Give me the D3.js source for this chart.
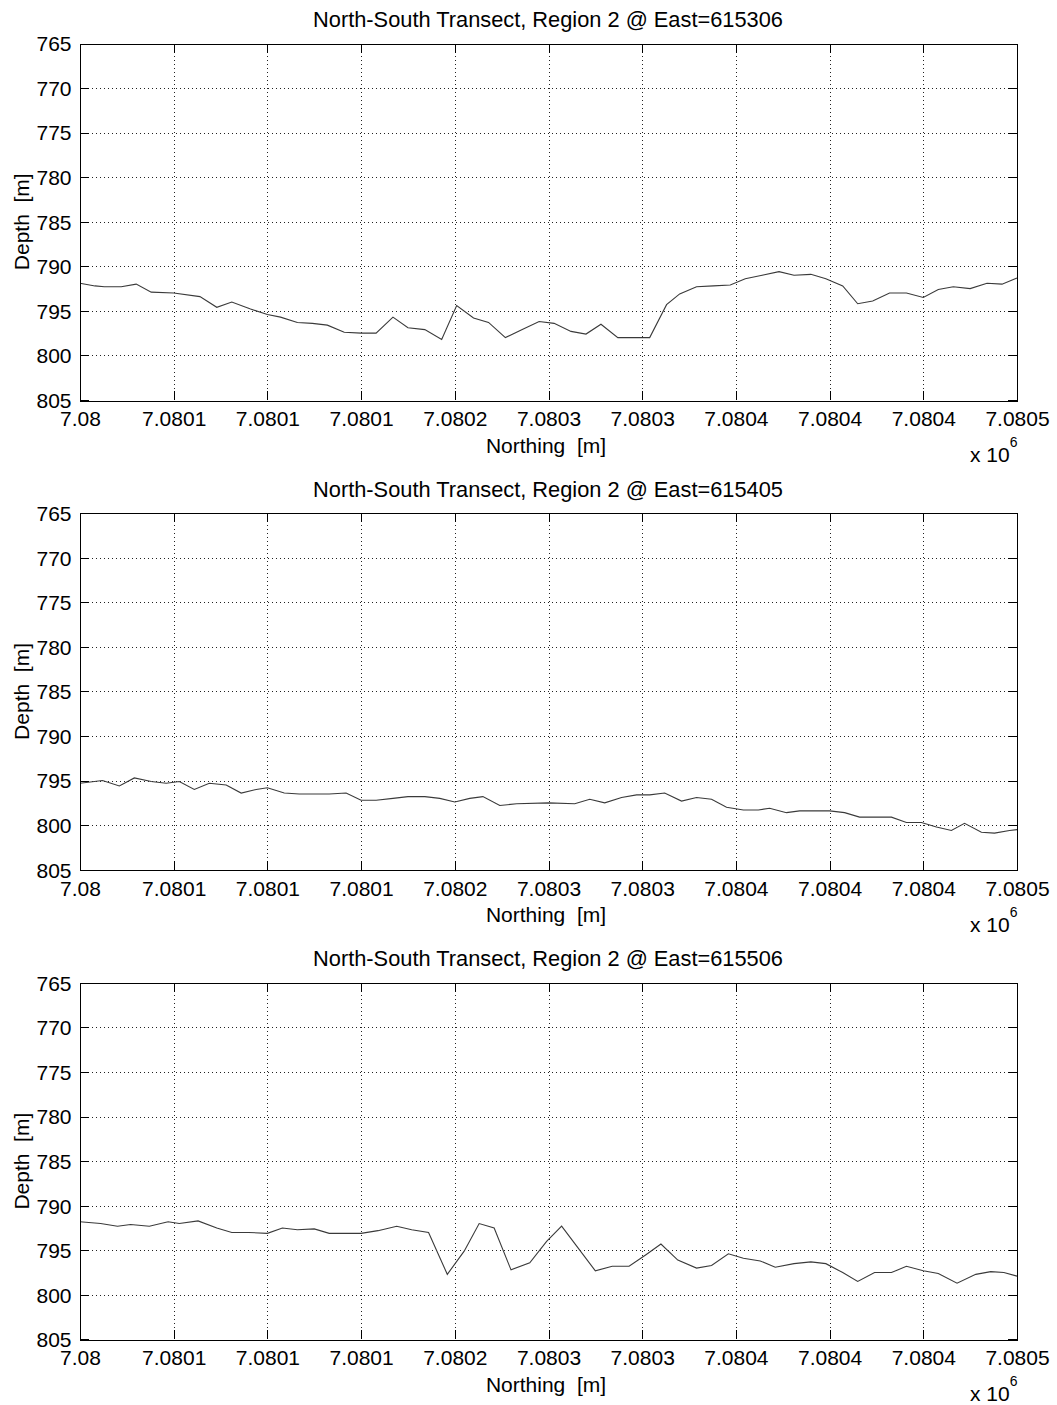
<!DOCTYPE html>
<html>
<head>
<meta charset="utf-8">
<script src="https://cdn.jsdelivr.net/npm/d3@7"></script>
<style>
  html, body { margin: 0; padding: 0; background: #fff; }
  svg { display: block; }
  text { font-family: "Liberation Sans", Arial, Helvetica, sans-serif; fill: #000; }
</style>
</head>
<body>
<svg id="fig" width="1057" height="1405"></svg>
<script>
// Transect titles (one per panel)
const titles = [
  "North-South Transect, Region 2 @ East=615306",
  "North-South Transect, Region 2 @ East=615405",
  "North-South Transect, Region 2 @ East=615506"
];

// Axis ticks and their printed labels
const xTicks = [7080000, 7080050, 7080100, 7080150, 7080200, 7080250,
                7080300, 7080350, 7080400, 7080450, 7080500];
const xTickLabels = ["7.08", "7.0801", "7.0801", "7.0801", "7.0802", "7.0803",
                     "7.0803", "7.0804", "7.0804", "7.0804", "7.0805"];
const yTicks = [765, 770, 775, 780, 785, 790, 795, 800, 805];

// Transect at East=615306
const northing1 = [7080000, 7080008, 7080013, 7080022, 7080030, 7080038, 7080050, 7080064,
  7080073, 7080081, 7080091, 7080100, 7080107, 7080116, 7080124, 7080132, 7080141, 7080150,
  7080158, 7080167, 7080175, 7080184, 7080193, 7080201, 7080210, 7080218, 7080227, 7080236,
  7080245, 7080253, 7080262, 7080270, 7080278, 7080287, 7080295, 7080304, 7080313, 7080320,
  7080329, 7080338, 7080347, 7080355, 7080364, 7080373, 7080381, 7080390, 7080398, 7080407,
  7080415, 7080423, 7080432, 7080441, 7080450, 7080458, 7080466, 7080475, 7080484, 7080492,
  7080500];
const depth1 = [791.9, 792.2, 792.3, 792.3, 792.0, 792.9, 793.0, 793.4,
  794.6, 794.0, 794.8, 795.4, 795.7, 796.3, 796.4, 796.6, 797.4, 797.5,
  797.5, 795.7, 796.9, 797.1, 798.2, 794.4, 795.8, 796.3, 798.0, 797.1,
  796.2, 796.4, 797.3, 797.6, 796.5, 798.0, 798.0, 798.0, 794.3, 793.1,
  792.3, 792.2, 792.1, 791.4, 791.0, 790.6, 791.0, 790.9, 791.4, 792.2,
  794.2, 793.9, 793.0, 793.0, 793.5, 792.6, 792.3, 792.5, 791.9, 792.0,
  791.3];

// Transect at East=615405
const northing2 = [7080000, 7080012, 7080021, 7080029, 7080038, 7080046, 7080053, 7080061,
  7080069, 7080078, 7080086, 7080094, 7080100, 7080109, 7080117, 7080125, 7080133, 7080142,
  7080150, 7080158, 7080167, 7080175, 7080184, 7080192, 7080200, 7080208, 7080215, 7080224,
  7080233, 7080250, 7080264, 7080272, 7080280, 7080289, 7080297, 7080304, 7080312, 7080321,
  7080329, 7080337, 7080345, 7080354, 7080362, 7080368, 7080377, 7080384, 7080391, 7080400,
  7080408, 7080416, 7080425, 7080433, 7080441, 7080449, 7080457, 7080465, 7080472, 7080481,
  7080488, 7080496, 7080500];
const depth2 = [795.3, 795.0, 795.6, 794.7, 795.1, 795.3, 795.1, 796.0,
  795.3, 795.5, 796.4, 796.0, 795.8, 796.4, 796.5, 796.5, 796.5, 796.4,
  797.2, 797.2, 797.0, 796.8, 796.8, 797.0, 797.4, 797.0, 796.8, 797.8,
  797.6, 797.5, 797.6, 797.1, 797.5, 796.9, 796.6, 796.6, 796.4, 797.3,
  796.9, 797.1, 798.0, 798.3, 798.3, 798.1, 798.6, 798.4, 798.4, 798.4,
  798.6, 799.1, 799.1, 799.1, 799.7, 799.7, 800.2, 800.6, 799.8, 800.8,
  800.9, 800.6, 800.5];

// Transect at East=615506
const northing3 = [7080000, 7080011, 7080020, 7080027, 7080037, 7080047, 7080053, 7080063,
  7080073, 7080081, 7080090, 7080100, 7080108, 7080116, 7080125, 7080133, 7080142, 7080150,
  7080159, 7080169, 7080177, 7080186, 7080196, 7080205, 7080213, 7080221, 7080230, 7080240,
  7080249, 7080257, 7080275, 7080284, 7080293, 7080302, 7080310, 7080319, 7080329, 7080337,
  7080346, 7080354, 7080363, 7080371, 7080381, 7080390, 7080398, 7080407, 7080415, 7080424,
  7080433, 7080441, 7080450, 7080458, 7080468, 7080478, 7080486, 7080493, 7080500];
const depth3 = [791.8, 792.0, 792.3, 792.1, 792.3, 791.8, 792.0, 791.7,
  792.5, 793.0, 793.0, 793.1, 792.5, 792.7, 792.6, 793.1, 793.1, 793.1,
  792.8, 792.3, 792.7, 793.0, 797.7, 795.1, 792.0, 792.5, 797.2, 796.4,
  794.0, 792.3, 797.3, 796.8, 796.8, 795.5, 794.3, 796.1, 797.0, 796.7,
  795.4, 795.9, 796.2, 796.9, 796.5, 796.3, 796.5, 797.5, 798.5, 797.5,
  797.5, 796.8, 797.3, 797.6, 798.7, 797.7, 797.4, 797.5, 797.9];

const panels = [
  { title: titles[0], northing: northing1, depth: depth1 },
  { title: titles[1], northing: northing2, depth: depth2 },
  { title: titles[2], northing: northing3, depth: depth3 }
];

// Layout
const left = 80, right = 1017;
const firstTop = 43.5, panelStep = 469.7, plotH = 356.5;
const tickLen = 9;
const fontSize = 21;

const svg = d3.select("#fig");
svg.append("rect").attr("width", 1057).attr("height", 1405).attr("fill", "#fff");

const x = d3.scaleLinear().domain([xTicks[0], xTicks[xTicks.length - 1]]).range([left, right]);

panels.forEach((p, i) => {
  const top = firstTop + i * panelStep;
  const bottom = top + plotH;
  const y = d3.scaleLinear().domain([yTicks[0], yTicks[yTicks.length - 1]]).range([top, bottom]);

  const g = svg.append("g");

  // Dotted grid
  const grid = g.append("g").attr("stroke", "#222").attr("stroke-width", 1)
    .attr("stroke-dasharray", "1,3").attr("shape-rendering", "crispEdges");
  grid.selectAll("line.gx").data(xTicks.slice(1, -1)).join("line")
    .attr("x1", d => Math.round(x(d)) + 0.5).attr("x2", d => Math.round(x(d)) + 0.5)
    .attr("y1", top).attr("y2", bottom);
  grid.selectAll("line.gy").data(yTicks.slice(1, -1)).join("line")
    .attr("class", "gy")
    .attr("x1", left).attr("x2", right)
    .attr("y1", d => Math.round(y(d)) + 0.5).attr("y2", d => Math.round(y(d)) + 0.5);

  // Depth profile
  const line = d3.line().x((d, k) => x(p.northing[k])).y(d => y(d));
  g.append("path").datum(p.depth)
    .attr("fill", "none").attr("stroke", "#3a3a3a").attr("stroke-width", 1.1)
    .attr("stroke-linejoin", "miter")
    .attr("d", line);

  // Axes with inward ticks
  const axB = d3.axisBottom(x).tickValues(xTicks).tickFormat((d, k) => xTickLabels[k])
    .tickSizeInner(-tickLen).tickSizeOuter(0);
  const axT = d3.axisTop(x).tickValues(xTicks).tickFormat("")
    .tickSizeInner(-tickLen).tickSizeOuter(0);
  const axL = d3.axisLeft(y).tickValues(yTicks).tickFormat(d3.format("d"))
    .tickSizeInner(-tickLen).tickSizeOuter(0);
  const axR = d3.axisRight(y).tickValues(yTicks).tickFormat("")
    .tickSizeInner(-tickLen).tickSizeOuter(0);

  const styleAxis = sel => {
    sel.select(".domain").remove();
    sel.selectAll("line").attr("stroke", "#000").attr("shape-rendering", "crispEdges");
    sel.selectAll("text").attr("font-size", fontSize)
      .attr("font-family", "'Liberation Sans', Arial, sans-serif").attr("fill", "#000");
  };
  g.append("g").attr("transform", `translate(0,${bottom})`).call(axB).call(styleAxis)
    .selectAll("text").attr("dy", null).attr("y", 26);
  g.append("g").attr("transform", `translate(0,${top})`).call(axT).call(styleAxis);
  g.append("g").attr("transform", `translate(${left},0)`).call(axL).call(styleAxis)
    .selectAll("text").attr("dy", "0.35em").attr("x", -8.5);
  g.append("g").attr("transform", `translate(${right},0)`).call(axR).call(styleAxis);

  // Box
  g.append("rect").attr("x", left + 0.5).attr("y", Math.round(top) + 0.5)
    .attr("width", right - left).attr("height", Math.round(plotH))
    .attr("fill", "none").attr("stroke", "#000").attr("stroke-width", 1)
    .attr("shape-rendering", "crispEdges");

  // Title
  g.append("text").attr("x", 548).attr("y", top - 16.5)
    .attr("text-anchor", "middle").attr("font-size", 21.8).text(p.title);

  // Axis labels
  g.append("text").attr("x", 546).attr("y", bottom + 52.7)
    .attr("text-anchor", "middle").attr("font-size", fontSize)
    .style("white-space", "pre").text("Northing  [m]");
  g.append("text")
    .attr("transform", `translate(28.5,${(top + bottom) / 2}) rotate(-90)`)
    .attr("text-anchor", "middle").attr("font-size", fontSize)
    .style("white-space", "pre").text("Depth  [m]");

  // Exponent note
  const ex = g.append("text").attr("x", 970).attr("y", bottom + 62).attr("font-size", fontSize);
  ex.append("tspan").text("x 10");
  ex.append("tspan").attr("font-size", 14).attr("dy", -15).text("6");
});
</script>
</body>
</html>
